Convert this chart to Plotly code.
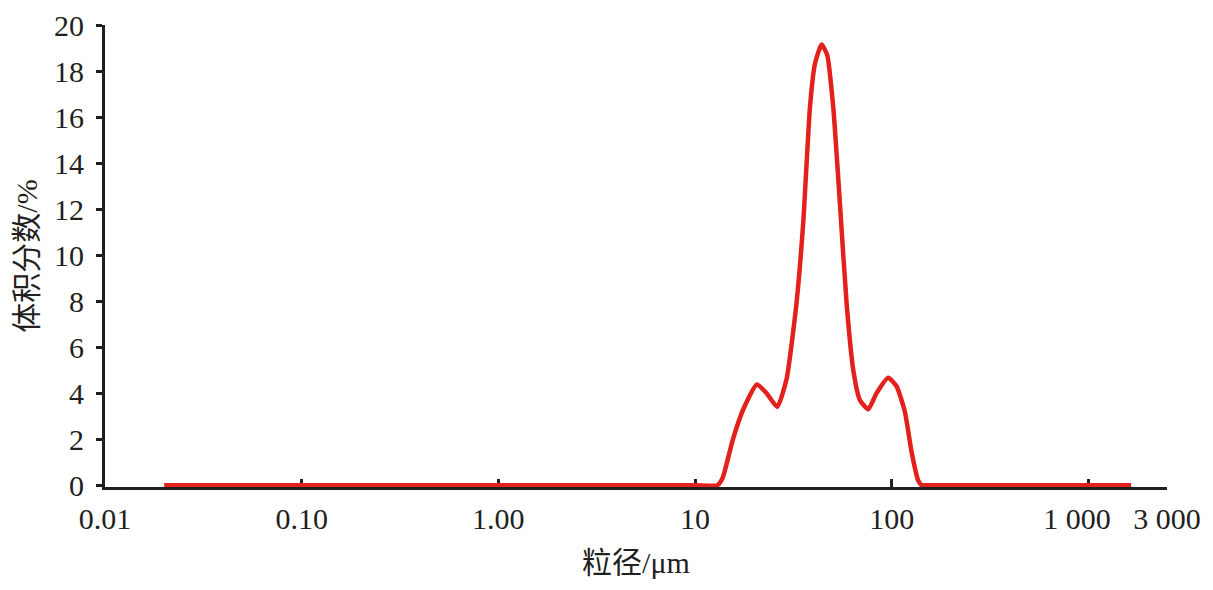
import plotly.graph_objects as go

# particle size (um) and volume fraction (%)
size_um = [0.02, 1.0, 10.0, 13.0, 13.8, 15.6, 17.6, 20.6, 23.1, 26.2, 29.2, 32.8, 35.5, 38.4, 40.7,
           44.0, 47.0, 50.5, 54.6, 59.0, 63.8, 68.9, 76.0, 83.8, 96.0, 105.9, 116.7,
           126.2, 136.4, 142.0, 150.0, 300.0, 1650.0]
volume_pct = [0, 0, 0, 0, 0.3, 2.0, 3.3, 4.37, 4.0, 3.4, 4.6, 7.9, 11.4, 16.4, 18.3,
              19.15, 18.7, 16.4, 12.2, 7.9, 5.0, 3.7, 3.3, 4.0, 4.67, 4.3, 3.2,
              1.45, 0.2, 0, 0, 0, 0]

x_tickvals = [0.01, 0.1, 1, 10, 100, 1000, 2512]
x_ticktext = ["0.01", "0.10", "1.00", "10", "100", "1 000\u00a0\u00a0\u00a0", "3 000"]
y_tickvals = list(range(0, 21, 2))

font_family = "Liberation Serif, Times New Roman, Noto Sans CJK SC, serif"
axis_color = "#231f20"

fig = go.Figure()
fig.add_trace(go.Scatter(
    x=size_um, y=volume_pct, mode="lines",
    line=dict(color="#e3201b", width=4.5, shape="spline", smoothing=0.5),
    cliponaxis=False, showlegend=False,
))

fig.update_layout(
    width=1205, height=582,
    margin=dict(l=97, r=46, t=17, b=103),
    paper_bgcolor="white", plot_bgcolor="white",
    font=dict(family=font_family, size=30, color=axis_color),
)
fig.update_xaxes(
    type="log", range=[-2, 3.4], automargin=False,
    tickvals=x_tickvals, ticktext=x_ticktext, tickangle=0,
    ticks="inside", ticklen=8, tickwidth=2.5, tickcolor=axis_color,
    showline=True, linewidth=3, linecolor=axis_color,
    showgrid=False, zeroline=False, layer="below traces",
    ticklabelstandoff=3, ticklabeloverflow="allow",
    title=dict(text="粒径/μm", font=dict(size=30), standoff=18),
)
fig.update_yaxes(
    range=[-0.08, 20], automargin=False,
    tickvals=y_tickvals,
    ticks="outside", ticklen=6, tickwidth=2.5, tickcolor=axis_color,
    showline=True, linewidth=3, linecolor=axis_color,
    showgrid=False, zeroline=False, layer="below traces",
    ticklabelstandoff=6, ticklabeloverflow="allow",
    title=dict(text="体积分数/%", font=dict(size=30), standoff=8),
)

fig.write_html("out.html")
